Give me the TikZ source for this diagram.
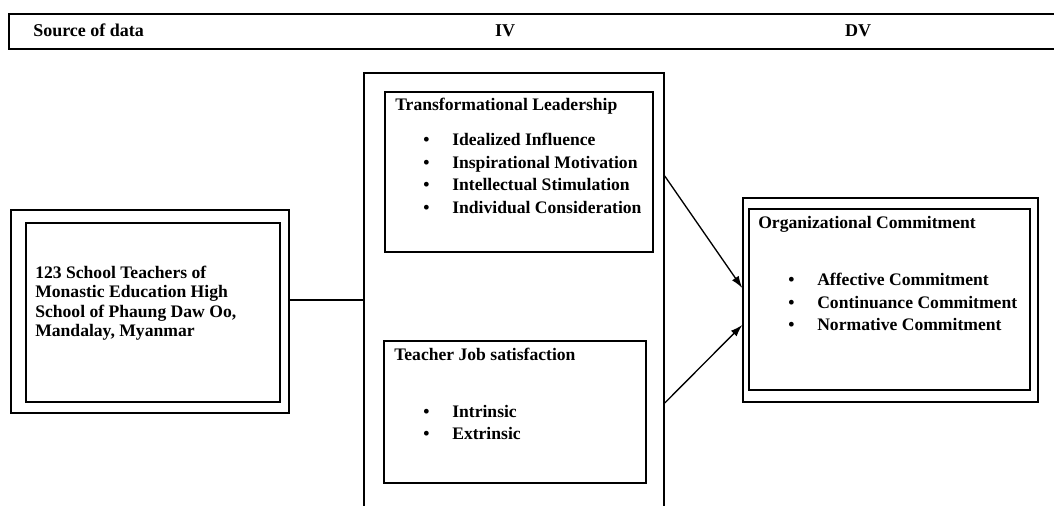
\documentclass[tikz,border=0pt]{standalone}
\usepackage{fontspec}
\setmainfont{Liberation Serif}
\usetikzlibrary{fit,arrows.meta}
\newcommand{\txtfont}{\fontsize{13.2}{16}\selectfont\bfseries}
\begin{document}
\begin{tikzpicture}[x=0.75pt,y=-0.75pt,
  lbl/.style={anchor=base west, inner sep=0, font=\txtfont},
  hdr/.style={anchor=base, inner sep=0, font=\fontsize{13.5}{16}\selectfont\bfseries},
  outerbox/.style={draw, line width=1.1pt, inner sep=0},
  innerbox/.style={draw, line width=1.6pt, inner sep=0},
  conn/.style={line width=1pt},
  arr/.style={line width=1pt, -{Latex[length=9pt,width=6pt]}}]
\clip (0,0) rectangle (1054,506);
\fill[white] (0,0) rectangle (1054,506);
% header
\coordinate (h1) at (9,14); \coordinate (h2) at (1080,49);
\node[outerbox, line width=0.9pt, fit=(h1)(h2)] (header) {};
\node[hdr, anchor=base west] (src) at (33,37) {Source of data};
\node[hdr] (iv) at (505,37) {IV};
\node[hdr] (dv) at (858,37) {DV};
% left source box
\coordinate (l1) at (11,210); \coordinate (l2) at (289,413);
\node[outerbox, fit=(l1)(l2)] (lob) {};
\coordinate (l3) at (26,223); \coordinate (l4) at (280,402);
\node[innerbox, fit=(l3)(l4)] (lib) {};
\node[lbl] (s1) at (35,278) {123 School Teachers of};
\node[lbl] (s2) at (35,297.5) {Monastic Education High};
\node[lbl] (s3) at (35,317) {School of Phaung Daw Oo,};
\node[lbl] (s4) at (35,336.5) {Mandalay, Myanmar};
% middle IV box (open at bottom)
\coordinate (m1) at (364,73); \coordinate (m2) at (664,530);
\node[outerbox, fit=(m1)(m2)] (mid) {};
% transformational leadership
\coordinate (t1) at (385,92); \coordinate (t2) at (653,252);
\node[innerbox, fit=(t1)(t2)] (tlbox) {};
\node[lbl] (tltitle) at (395,111) {Transformational Leadership};
\foreach \t [count=\i] in {Idealized Influence, Inspirational Motivation, Intellectual Stimulation, Individual Consideration}{
  \node[lbl] (tlb\i) at ({423},{146+22.4*(\i-1)}) {\textbullet};
  \node[lbl] (tlt\i) at ({452},{146+22.4*(\i-1)}) {\t};
}
% teacher job satisfaction
\coordinate (j1) at (384,341); \coordinate (j2) at (646,483);
\node[innerbox, fit=(j1)(j2)] (tjbox) {};
\node[lbl] (tjtitle) at (394,360) {Teacher Job satisfaction};
\foreach \t [count=\i] in {Intrinsic, Extrinsic}{
  \node[lbl] (tjb\i) at ({423},{417+22*(\i-1)}) {\textbullet};
  \node[lbl] (tjt\i) at ({452},{417+22*(\i-1)}) {\t};
}
% organizational commitment
\coordinate (r1) at (743,198); \coordinate (r2) at (1038,402);
\node[outerbox, fit=(r1)(r2)] (rob) {};
\coordinate (r3) at (749,209); \coordinate (r4) at (1030,390);
\node[innerbox, fit=(r3)(r4)] (rib) {};
\node[lbl] (octitle) at (758,229) {Organizational Commitment};
\foreach \t [count=\i] in {Affective Commitment, Continuance Commitment, Normative Commitment}{
  \node[lbl] (ocb\i) at ({788},{286+22*(\i-1)}) {\textbullet};
  \node[lbl] (oct\i) at ({817},{286+22*(\i-1)}) {\t};
}
% connectors
\coordinate (y300) at (0,300);
\coordinate (ya) at (0,176); \coordinate (yb) at (0,288);
\coordinate (yc) at (0,403); \coordinate (yd) at (0,325);
\draw[conn] (lob.east |- y300) -- (mid.west |- y300);
\draw[arr] (mid.east |- ya) -- (rob.west |- yb);
\draw[arr] (mid.east |- yc) -- (rob.west |- yd);
\end{tikzpicture}
\end{document}
